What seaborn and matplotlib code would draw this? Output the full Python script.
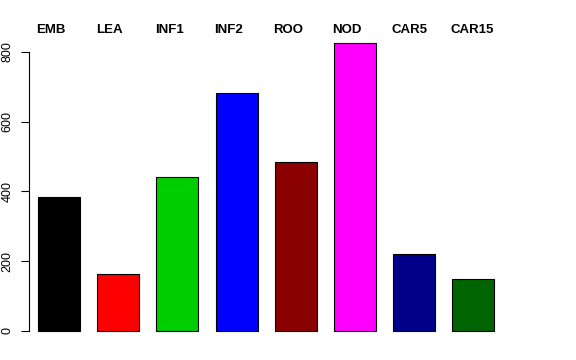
import matplotlib
matplotlib.use('Agg')
import matplotlib.pyplot as plt
import seaborn as sns
import pandas as pd

# Dados
categories = ['EMB', 'LEA', 'INF1', 'INF2', 'ROO', 'NOD', 'CAR5', 'CAR15']
counts = [384, 164, 441, 682, 484, 825, 220, 148]
bar_colors = ['#000000', '#FF0000', '#00CD00', '#0000FF',
              '#8B0000', '#FF00FF', '#00008B', '#006400']
yticks = [0, 200, 400, 600, 800]


def main():
    sns.set_style('white')
    plt.rcParams['font.family'] = ['Liberation Sans', 'DejaVu Sans']
    plt.rcParams['text.color'] = 'black'
    plt.rcParams['ytick.color'] = 'black'
    plt.rcParams['ytick.labelcolor'] = 'black'

    df = pd.DataFrame({'cat': categories, 'n': counts})

    fig = plt.figure(figsize=(5.76, 3.6), dpi=100)
    W, H = 576, 360
    # posicao da area de plotagem em pixels
    left, right, top, bottom = 29, 547, 31.5, 342.5
    ax = fig.add_axes([left / W, 1 - bottom / H, (right - left) / W, (bottom - top) / H])

    sns.barplot(data=df, x='cat', y='n', hue='cat', palette=bar_colors,
                order=categories, hue_order=categories, legend=False,
                width=0.71, edgecolor='black', linewidth=0.8, saturation=1,
                ax=ax)

    # escala: centro da barra 0 em x=59px, passo de 59.2px
    step = 59.2
    ax.set_xlim((left - 59) / step, (right - 59) / step)
    ax.set_ylim(-33, 858)

    for s in ['top', 'right', 'bottom']:
        ax.spines[s].set_visible(False)
    ax.spines['left'].set_bounds(0, 800)
    ax.spines['left'].set_linewidth(0.8)
    ax.spines['left'].set_color('black')

    ax.set_xticks([])
    ax.set_yticks(yticks)
    ax.set_yticklabels([str(t) for t in yticks])
    ax.tick_params(axis='y', direction='out', length=6, width=0.8,
                   color='black', labelcolor='black', labelsize=9, pad=5,
                   left=True, labelrotation=90)
    for lab in ax.get_yticklabels():
        lab.set_va('center')
    ax.set_xlabel('')
    ax.set_ylabel('')

    # nomes acima das barras
    for i, name in enumerate(categories):
        ax.text(i - 0.38, 861, name, ha='left', va='center', color='black',
                fontsize=9.5, fontweight='bold', clip_on=False)

    fig.savefig('out.png', dpi=100)


if __name__ == '__main__':
    main()
